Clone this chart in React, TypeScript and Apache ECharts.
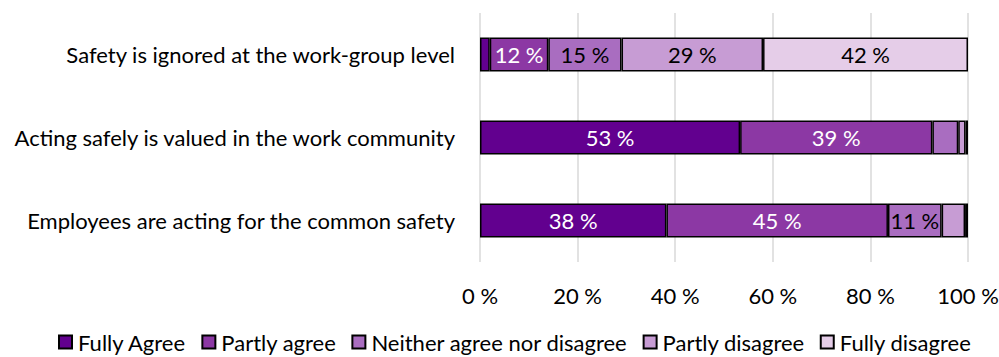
import React, { useEffect, useRef } from "react";
import * as echarts from "echarts";

const categories = [
  "Safety is ignored at the work-group level",
  "Acting safely is valued in the work community",
  "Employees are acting for the common safety",
];
const seriesNames = [
  "Fully Agree",
  "Partly agree",
  "Neither agree nor disagree",
  "Partly disagree",
  "Fully disagree",
];
const fullyAgree = [2, 53.3, 38.2];
const partlyAgree = [12, 39.4, 45.4];
const neither = [15, 5.3, 11];
const partlyDisagree = [29, 1.5, 4.8];
const fullyDisagree = [42, 0.5, 0.6];
const xTicks = [0, 20, 40, 60, 80, 100];

const seriesValues = [fullyAgree, partlyAgree, neither, partlyDisagree, fullyDisagree];
const colors = ["#62008F", "#8C38A4", "#A96DC0", "#C79CD4", "#E5CDE8"];
const labelColors = ["#ffffff", "#ffffff", "#000000", "#000000", "#000000"];
const FONT = "Lato";
const FS = 22;

export default function App() {
  const ref = useRef<HTMLDivElement>(null);
  useEffect(() => {
    if (!ref.current) return;
    const chart = echarts.init(ref.current, null, { renderer: "svg" });
    chart.setOption({
      animation: false,
      textStyle: { fontFamily: FONT },
      grid: { left: 480, right: 31, top: 13, bottom: 95, outerBoundsMode: "none", containLabel: false },
      legend: {
        top: 326,
        left: 53,
        itemWidth: 13,
        itemHeight: 13,
        itemGap: 15,
        textStyle: { fontFamily: FONT, fontSize: FS, color: "#000", padding: [0, 0, 0, 1] },
        data: seriesNames.map((n) => ({ name: n, icon: "rect" })),
      },
      xAxis: {
        type: "value",
        min: 0,
        max: 100,
        interval: 20,
        axisLine: { show: false },
        axisTick: { show: false },
        axisLabel: {
          formatter: (v: number) => `${v} %`,
          fontFamily: FONT,
          fontSize: FS,
          color: "#000",
          margin: 22,
          customValues: xTicks,
        },
        splitLine: { lineStyle: { color: "#d9d9d9", width: 1.5 } },
      },
      yAxis: {
        type: "category",
        data: categories,
        inverse: true,
        axisLine: { show: false },
        axisTick: { show: false },
        axisLabel: { fontFamily: FONT, fontSize: FS, color: "#000", margin: 25 },
      },
      series: seriesNames.map((name, i) => ({
        name,
        type: "bar",
        stack: "total",
        barWidth: "41%",
        data: seriesValues[i],
        itemStyle: { color: colors[i], borderColor: "#000", borderWidth: 1.5 },
        label: {
          show: true,
          position: "inside",
          fontFamily: FONT,
          fontSize: FS,
          color: labelColors[i],
          formatter: (p: any) => (p.value >= 10 ? `${Math.round(p.value)} %` : ""),
        },
      })),
    });
    return () => chart.dispose();
  }, []);
  return <div ref={ref} style={{ width: 999, height: 357, position: "absolute", left: 0, top: 0 }} />;
}
